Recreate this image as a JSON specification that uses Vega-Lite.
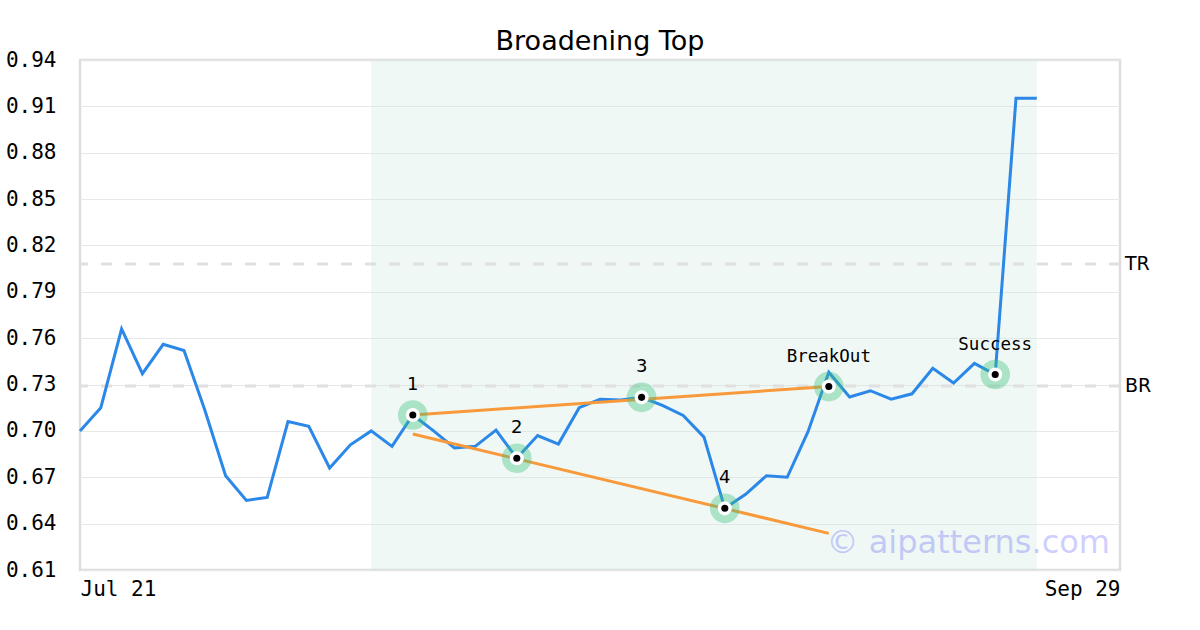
{
  "$schema": "https://vega.github.io/schema/vega-lite/v6.json",
  "width": 1040,
  "height": 510,
  "autosize": {"type": "none"},
  "padding": {"left": 80, "top": 60, "right": 80, "bottom": 60},
  "background": "white",
  "view": {"stroke": "#dddddd", "strokeWidth": 2.5},
  "title": {"text": "Broadening Top", "font": "DejaVu Sans", "fontSize": 27, "fontWeight": "normal", "color": "#000000", "offset": -7, "anchor": "middle"},
  "datasets": {
    "prices": [
      {"i": 0, "price": 0.700}, {"i": 1, "price": 0.715}, {"i": 2, "price": 0.766}, {"i": 3, "price": 0.737},
      {"i": 4, "price": 0.756}, {"i": 5, "price": 0.752}, {"i": 6, "price": 0.7135}, {"i": 7, "price": 0.671},
      {"i": 8, "price": 0.655}, {"i": 9, "price": 0.657}, {"i": 10, "price": 0.706}, {"i": 11, "price": 0.703},
      {"i": 12, "price": 0.676}, {"i": 13, "price": 0.691}, {"i": 14, "price": 0.700}, {"i": 15, "price": 0.690},
      {"i": 16, "price": 0.7103}, {"i": 17, "price": 0.700}, {"i": 18, "price": 0.689}, {"i": 19, "price": 0.690},
      {"i": 20, "price": 0.7005}, {"i": 21, "price": 0.6823}, {"i": 22, "price": 0.697}, {"i": 23, "price": 0.6915},
      {"i": 24, "price": 0.715}, {"i": 25, "price": 0.7205}, {"i": 26, "price": 0.720}, {"i": 27, "price": 0.7217},
      {"i": 28, "price": 0.7165}, {"i": 29, "price": 0.710}, {"i": 30, "price": 0.696}, {"i": 31, "price": 0.6499},
      {"i": 32, "price": 0.659}, {"i": 33, "price": 0.671}, {"i": 34, "price": 0.670}, {"i": 35, "price": 0.6995},
      {"i": 36, "price": 0.738}, {"i": 37, "price": 0.722}, {"i": 38, "price": 0.726}, {"i": 39, "price": 0.7205},
      {"i": 40, "price": 0.724}, {"i": 41, "price": 0.7405}, {"i": 42, "price": 0.731}, {"i": 43, "price": 0.7437},
      {"i": 44, "price": 0.7365}, {"i": 45, "price": 0.9152}, {"i": 46, "price": 0.9152}
    ],
    "zone": [{"start": 14, "end": 46}],
    "levels": [{"label": "TR", "level": 0.808}, {"label": "BR", "level": 0.729}],
    "trend": [
      {"seg": "upper", "i": 16, "price": 0.7103}, {"seg": "upper", "i": 36, "price": 0.7287},
      {"seg": "lower", "i": 16, "price": 0.698}, {"seg": "lower", "i": 36, "price": 0.6337}
    ],
    "points": [
      {"i": 16, "price": 0.7103, "label": "1", "kind": "num"},
      {"i": 21, "price": 0.6823, "label": "2", "kind": "num"},
      {"i": 27, "price": 0.7217, "label": "3", "kind": "num"},
      {"i": 31, "price": 0.6499, "label": "4", "kind": "num"},
      {"i": 36, "price": 0.7287, "label": "BreakOut", "kind": "word"},
      {"i": 44, "price": 0.7365, "label": "Success", "kind": "word"}
    ],
    "mark": [{"text": "© aipatterns.com"}]
  },
  "encoding": {
    "x": {"field": "i", "type": "quantitative", "scale": {"domain": [0, 50], "nice": false, "zero": false},
      "axis": {"title": null, "values": [0, 50], "labelExpr": "datum.value == 0 ? 'Jul 21' : 'Sep 29'", "labelFlush": true,
        "grid": false, "domain": false, "ticks": false, "tickSize": 0, "labelPadding": 8,
        "labelFont": "DejaVu Sans Mono", "labelFontSize": 21, "labelColor": "#000000"}},
    "y": {"field": "price", "type": "quantitative", "scale": {"domain": [0.61, 0.94], "nice": false, "zero": false},
      "axis": {"title": null, "values": [0.61, 0.64, 0.67, 0.70, 0.73, 0.76, 0.79, 0.82, 0.85, 0.88, 0.91, 0.94], "format": ".2f",
        "grid": true, "gridColor": "#e8e8e8", "gridWidth": 1, "domain": false, "ticks": false, "tickSize": 0, "labelPadding": 24,
        "labelFont": "DejaVu Sans Mono", "labelFontSize": 21, "labelColor": "#000000", "labelBaseline": "middle"}}
  },
  "layer": [
    {
      "data": {"name": "zone"},
      "mark": {"type": "rect", "color": "#cfeadd", "opacity": 0.33},
      "encoding": {"x": {"field": "start", "type": "quantitative"}, "x2": {"field": "end"}, "y": null}
    },
    {
      "data": {"name": "levels"},
      "mark": {"type": "rule", "color": "#e0e0e0", "strokeWidth": 3, "strokeDash": [11, 13]},
      "encoding": {"y": {"field": "level", "type": "quantitative"}, "x": null}
    },
    {
      "data": {"name": "levels"},
      "mark": {"type": "text", "align": "left", "baseline": "middle", "x": "width", "dx": 5, "font": "DejaVu Sans", "fontSize": 19, "color": "#000000"},
      "encoding": {"y": {"field": "level", "type": "quantitative"}, "x": null, "text": {"field": "label"}}
    },
    {
      "data": {"name": "prices"},
      "mark": {"type": "line", "color": "#2b88e8", "strokeWidth": 3},
      "encoding": {}
    },
    {
      "data": {"name": "trend"},
      "mark": {"type": "line", "color": "#f89a3c", "strokeWidth": 3},
      "encoding": {"detail": {"field": "seg"}}
    },
    {
      "data": {"name": "points"},
      "mark": {"type": "point", "shape": "circle", "filled": true, "color": "#3cbf7f", "opacity": 0.38, "size": 880},
      "encoding": {}
    },
    {
      "data": {"name": "points"},
      "mark": {"type": "point", "shape": "circle", "filled": true, "color": "#ffffff", "opacity": 1, "size": 200},
      "encoding": {}
    },
    {
      "data": {"name": "points"},
      "mark": {"type": "point", "shape": "circle", "filled": true, "color": "#000000", "opacity": 1, "size": 50},
      "encoding": {}
    },
    {
      "data": {"name": "points"},
      "transform": [{"filter": "datum.kind == 'num'"}],
      "mark": {"type": "text", "align": "center", "baseline": "alphabetic", "dy": -25, "font": "DejaVu Sans", "fontSize": 18, "color": "#000000"},
      "encoding": {"text": {"field": "label"}}
    },
    {
      "data": {"name": "points"},
      "transform": [{"filter": "datum.kind == 'word'"}],
      "mark": {"type": "text", "align": "center", "baseline": "alphabetic", "dy": -25, "font": "DejaVu Sans Mono", "fontSize": 17.5, "color": "#000000"},
      "encoding": {"text": {"field": "label"}}
    },
    {
      "data": {"name": "mark"},
      "mark": {"type": "text", "align": "right", "baseline": "alphabetic", "x": "width", "y": "height", "dx": -10, "dy": -17, "font": "DejaVu Sans", "fontSize": 32, "color": "#0000ff", "opacity": 0.19},
      "encoding": {"x": null, "y": null, "text": {"field": "text"}}
    }
  ]
}
